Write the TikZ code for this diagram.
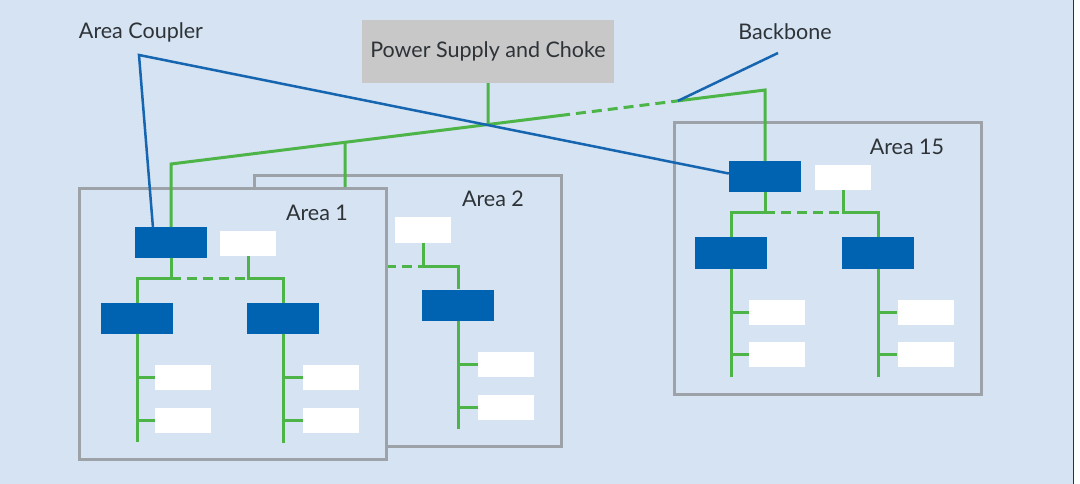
\documentclass[tikz,border=0pt]{standalone}
\usepackage{fontspec}
\setmainfont{Lato}
\usetikzlibrary{calc}
\definecolor{bg}{HTML}{D5E3F2}
\definecolor{cblue}{HTML}{0063B1}
\definecolor{lblue}{HTML}{1665B0}
\definecolor{cgreen}{HTML}{4DB548}
\definecolor{frame}{HTML}{9CA2A8}
\definecolor{psgray}{HTML}{C8C8C8}
\definecolor{txt}{HTML}{2E3338}
\tikzset{
  blu/.style={fill=cblue, draw=none, minimum width=72pt, minimum height=31pt, inner sep=0pt},
  wht/.style={fill=white, draw=none, minimum width=56pt, minimum height=25pt, inner sep=0pt},
  areabox/.style={draw=frame, fill=bg, line width=3pt, minimum width=307pt, minimum height=270pt, inner sep=0pt},
  gl/.style={draw=cgreen, line width=3pt},
  gdash/.style={gl, dash pattern=on 10pt off 6pt},
  bl/.style={draw=lblue, line width=2.5pt},
  lbl/.style={text=txt, font=\fontsize{21.5}{24}\selectfont, inner sep=0pt},
}
\begin{document}
\begin{tikzpicture}[x=1pt,y=-1pt]
\useasboundingbox (0,0) rectangle (1080,484);
\fill[white] (0,0) rectangle (1080,484);
\fill[bg] (0,0) rectangle (1073,484);
\draw[draw=txt, line width=1.5pt] (1073.5,0) -- (1073.5,484);

% labels
\node[lbl] (lac) at (141,32) {Area Coupler};
\node[lbl] (lbb) at (785,32) {Backbone};
\node[fill=psgray, minimum width=252pt, minimum height=63pt, inner sep=0pt, text=txt, font=\fontsize{21.5}{24}\selectfont] (ps) at (488,51.5) {Power Supply and Choke};

% backbone coordinates
\coordinate (bbL) at (171,164);
\coordinate (bbR) at (765,90);
\coordinate (j2) at ($(bbL)!0.293!(bbR)$);
\coordinate (jps) at ($(bbL)!0.5337!(bbR)$);
\coordinate (d1) at ($(bbL)!0.655!(bbR)$);
\coordinate (d2) at ($(bbL)!0.845!(bbR)$);
\coordinate (jbb) at ($(bbL)!0.8535!(bbR)$);
\coordinate (acp) at (139,55);
\coordinate (bbp) at (778,53);

% ---------- Area 2 ----------
\node[areabox] (A2) at (407.5,311) {};
\node[lbl] at (493,199) {Area 2};
\node[wht] (W2) at (423,230) {};
\node[blu] (C2) at (458,305) {};
\node[wht] (W2a) at (506,364) {};
\node[wht] (W2b) at (506,407) {};
\coordinate (b2) at (423,266);
\draw[gl] (W2.south) -- (b2) -| (C2.north);
\draw[gdash] (370,266) -- (b2);
\draw[gl] (C2.south) -- (458,429);
\draw[gl] (458,364) -- (W2a.west);
\draw[gl] (458,407) -- (W2b.west);
\draw[gl] (j2) -- (345,200);

% ---------- Area 1 ----------
\node[areabox] (A1) at (232.5,324) {};
\node[lbl] at (317,213) {Area 1};
\node[blu] (C1) at (171,242.5) {};
\node[wht] (W1) at (248,243.5) {};
\node[blu] (L1a) at (137,318.5) {};
\node[blu] (L1b) at (283,318.5) {};
\node[wht] (W1a) at (183,377) {};
\node[wht] (W1b) at (183,420.5) {};
\node[wht] (W1c) at (331,377) {};
\node[wht] (W1d) at (331,420.5) {};
\coordinate (b1a) at (171,278);
\coordinate (b1b) at (248,278);
\draw[gl] (C1.south) -- (b1a) -| (L1a.north);
\draw[gl] (W1.south) -- (b1b) -| (L1b.north);
\draw[gdash] (b1a) -- (b1b);
\draw[gl] (L1a.south) -- (137,442);
\draw[gl] (L1b.south) -- (283,443);
\draw[gl] (137,377) -- (W1a.west);
\draw[gl] (137,420.5) -- (W1b.west);
\draw[gl] (283,377) -- (W1c.west);
\draw[gl] (283,420.5) -- (W1d.west);

% ---------- Area 15 ----------
\node[areabox, minimum height=271pt] (A15) at (827.5,258.5) {};
\node[lbl] at (907,147) {Area 15};
\node[blu] (C15) at (765,176.5) {};
\node[wht] (W15) at (843,177.5) {};
\node[blu] (L15a) at (731,253) {};
\node[blu] (L15b) at (878,253) {};
\node[wht] (W15a) at (777,312) {};
\node[wht] (W15b) at (777,354.5) {};
\node[wht] (W15c) at (925.5,312) {};
\node[wht] (W15d) at (925.5,354.5) {};
\coordinate (b15a) at (765,213);
\coordinate (b15b) at (843,213);
\draw[gl] (C15.south) -- (b15a) -| (L15a.north);
\draw[gl] (W15.south) -- (b15b) -| (L15b.north);
\draw[gdash] (b15a) -- (b15b);
\draw[gl] (L15a.south) -- (731,377);
\draw[gl] (L15b.south) -- (878,377);
\draw[gl] (731,312) -- (W15a.west);
\draw[gl] (731,354.5) -- (W15b.west);
\draw[gl] (878,312) -- (W15c.west);
\draw[gl] (878,354.5) -- (W15d.west);

% ---------- backbone ----------
\draw[gl] (C1.north) -- (bbL) -- (d1);
\draw[gdash] (d1) -- (d2);
\draw[gl] (d2) -- (bbR) -- (C15.north);
\draw[gl] (ps.south) -- (jps);

% ---------- blue pointer lines ----------
\draw[bl] ($(C1.north west)!0.25!(C1.north east)$) -- (acp) -- ($(C15.west)+(0,-3)$);
\draw[bl] (bbp) -- (jbb);
\end{tikzpicture}
\end{document}
